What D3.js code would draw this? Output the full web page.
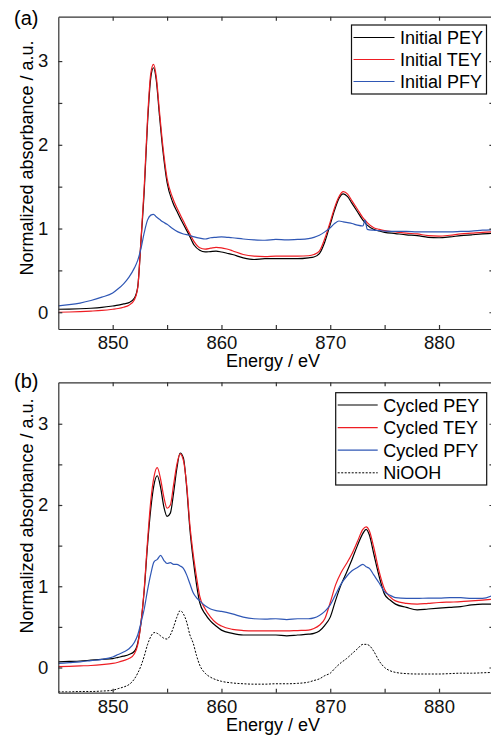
<!DOCTYPE html>
<html>
<head>
<meta charset="utf-8">
<script src="https://cdn.jsdelivr.net/npm/d3@7"></script>
<style>
  body { margin: 0; background: #fff; }
  svg { display: block; font-family: "Liberation Sans", Arial, sans-serif; }
  .axis text { font-size: 18.5px; fill: #111; }
  .axis path, .axis line { stroke: #333; stroke-width: 1.2; }
</style>
</head>
<body>
<div id="chart"></div>
<script>
// ---- data ----
var eTop = [845, 846, 847, 848, 849, 850, 850.5, 851, 851.5, 852, 852.3, 852.6, 852.9, 853.2, 853.5, 853.75,
  854, 854.3, 854.6, 855, 855.5, 856, 856.5, 857, 857.5, 858, 858.5, 859, 859.5, 860, 860.5, 861,
  862, 863, 864, 865, 866, 867, 868, 868.5, 869, 869.5, 870, 870.4, 870.8, 871.2, 871.6, 872,
  872.5, 873, 873.2, 873.4, 874, 874.5, 875, 876, 877, 878, 879, 880, 881, 882, 883, 884, 885];

var initialPEY = [0.036, 0.038, 0.042, 0.048, 0.058, 0.075, 0.085, 0.10, 0.115, 0.17, 0.30, 0.85, 1.45, 2.25, 2.80, 2.92,
  2.78, 2.35, 1.95, 1.55, 1.32, 1.18, 1.05, 0.93, 0.80, 0.74, 0.72, 0.725, 0.73, 0.72, 0.705, 0.69,
  0.65, 0.63, 0.64, 0.64, 0.64, 0.64, 0.65, 0.66, 0.70, 0.84, 1.05, 1.22, 1.36, 1.415, 1.38, 1.30,
  1.20, 1.10, 1.07, 1.04, 0.99, 0.97, 0.955, 0.94, 0.925, 0.915, 0.895, 0.89, 0.90, 0.915, 0.925, 0.935, 0.945];

var initialTEY = [0.0, 0.003, 0.008, 0.014, 0.022, 0.036, 0.045, 0.06, 0.085, 0.15, 0.29, 0.86, 1.50, 2.30, 2.85, 2.96,
  2.82, 2.40, 2.00, 1.60, 1.37, 1.22, 1.09, 0.96, 0.84, 0.77, 0.755, 0.765, 0.775, 0.77, 0.755, 0.735,
  0.69, 0.67, 0.665, 0.67, 0.67, 0.67, 0.675, 0.69, 0.73, 0.88, 1.08, 1.25, 1.38, 1.44, 1.41, 1.33,
  1.23, 1.13, 1.10, 1.07, 1.01, 0.99, 0.975, 0.96, 0.945, 0.935, 0.915, 0.91, 0.92, 0.935, 0.945, 0.955, 0.96];

var initialPFY = [0.075, 0.09, 0.11, 0.14, 0.18, 0.23, 0.28, 0.34, 0.42, 0.53, 0.62, 0.76, 0.95, 1.10, 1.16, 1.17,
  1.14, 1.11, 1.08, 1.05, 1.00, 0.96, 0.935, 0.92, 0.90, 0.885, 0.875, 0.89, 0.895, 0.90, 0.895, 0.89,
  0.875, 0.865, 0.86, 0.87, 0.865, 0.87, 0.88, 0.895, 0.92, 0.96, 1.01, 1.06, 1.09, 1.08, 1.07, 1.06,
  1.04, 1.03, 1.10, 0.99, 0.98, 0.975, 0.97, 0.965, 0.965, 0.96, 0.96, 0.96, 0.96, 0.965, 0.97, 0.98, 0.985];

var eBot = [845, 846, 847, 848, 849, 850, 850.5, 851, 851.5, 852, 852.3, 852.6, 852.9, 853.2, 853.5, 853.8,
  854.1, 854.4, 854.7, 855, 855.3, 855.6, 855.9, 856.2, 856.5, 856.8, 857.1, 857.4, 857.7, 858,
  858.5, 859, 859.5, 860, 861, 862, 863, 864, 865, 866, 867, 868, 868.5, 869, 869.5, 870,
  870.5, 871, 871.5, 872, 872.5, 873, 873.3, 873.6, 874, 874.5, 875, 875.5, 876,
  877, 878, 879, 880, 881, 882, 883, 884, 885];

var cycledPEY = [0.07, 0.075, 0.08, 0.09, 0.10, 0.11, 0.125, 0.14, 0.16, 0.20, 0.30, 0.55, 0.95, 1.50, 1.95, 2.25,
  2.36, 2.22, 1.98, 1.86, 1.90, 2.15, 2.45, 2.64, 2.58, 2.22, 1.70, 1.33, 1.03, 0.80,
  0.66, 0.57, 0.51, 0.46, 0.42, 0.40, 0.40, 0.40, 0.40, 0.39, 0.40, 0.41, 0.42, 0.45, 0.52, 0.62,
  0.83, 1.02, 1.17, 1.33, 1.50, 1.65, 1.70, 1.63, 1.40, 1.12, 0.90, 0.83, 0.78,
  0.74, 0.71, 0.72, 0.73, 0.74, 0.75, 0.77, 0.78, 0.78];

var cycledTEY = [0.01, 0.015, 0.02, 0.025, 0.035, 0.05, 0.065, 0.085, 0.11, 0.17, 0.28, 0.55, 0.97, 1.55, 2.05, 2.35,
  2.46, 2.32, 2.10, 1.96, 2.00, 2.25, 2.50, 2.63, 2.55, 2.25, 1.75, 1.40, 1.12, 0.88,
  0.72, 0.62, 0.55, 0.51, 0.47, 0.455, 0.45, 0.45, 0.45, 0.45, 0.455, 0.46, 0.48, 0.52, 0.60, 0.80,
  1.02, 1.17, 1.28, 1.40, 1.55, 1.70, 1.73, 1.68, 1.48, 1.18, 0.96, 0.87, 0.82,
  0.79, 0.78, 0.79, 0.80, 0.805, 0.81, 0.82, 0.83, 0.84];

var cycledPFY = [0.05, 0.06, 0.07, 0.085, 0.10, 0.13, 0.16, 0.19, 0.23, 0.31, 0.40, 0.55, 0.72, 0.95, 1.15, 1.30,
  1.33, 1.38, 1.32, 1.28, 1.29, 1.27, 1.27, 1.25, 1.22, 1.14, 1.03, 0.92, 0.86, 0.82,
  0.76, 0.72, 0.70, 0.69, 0.66, 0.62, 0.60, 0.595, 0.60, 0.59, 0.60, 0.60, 0.61, 0.64, 0.69, 0.77,
  0.90, 1.03, 1.12, 1.19, 1.23, 1.27, 1.24, 1.22, 1.14, 1.04, 0.93, 0.89, 0.86,
  0.85, 0.85, 0.855, 0.855, 0.86, 0.86, 0.85, 0.85, 0.89];

var niooh = [-0.30, -0.30, -0.295, -0.295, -0.29, -0.28, -0.26, -0.24, -0.21, -0.14, -0.07, 0.02, 0.14, 0.28, 0.38, 0.43,
  0.42, 0.39, 0.36, 0.35, 0.40, 0.50, 0.62, 0.70, 0.66, 0.56, 0.40, 0.30, 0.15, 0.03,
  -0.07, -0.12, -0.15, -0.17, -0.19, -0.20, -0.205, -0.205, -0.20, -0.20, -0.195, -0.18, -0.16, -0.14, -0.10, -0.07,
  0.00, 0.06, 0.11, 0.17, 0.23, 0.285, 0.285, 0.27, 0.20, 0.08, 0.00, -0.04, -0.06,
  -0.075, -0.08, -0.08, -0.08, -0.075, -0.07, -0.07, -0.065, -0.06];

var xTicks = [850, 855, 860, 865, 870, 875, 880];
var yTicks = [0, 0.5, 1, 1.5, 2, 2.5, 3];
var topLabels = ["Initial PEY", "Initial TEY", "Initial PFY"];
var botLabels = ["Cycled PEY", "Cycled TEY", "Cycled PFY", "NiOOH"];

// ---- layout ----
var svgWidth = 491, svgHeight = 737;
var red = "#ee1d23", blue = "#2f57b5", black = "#000";

var svg = d3.select("#chart").append("svg")
  .attr("width", svgWidth)
  .attr("height", svgHeight);

var x = d3.scaleLinear().domain([845, 885]).range([58.3, 493.4]);

function panel(opts) {
  var y = d3.scaleLinear().domain(opts.yDomain).range([opts.bottom, opts.top]);
  var g = svg.append("g");

  var clipId = "clip" + opts.name;
  svg.append("clipPath").attr("id", clipId)
    .append("rect")
    .attr("x", x.range()[0]).attr("y", opts.top)
    .attr("width", x.range()[1] - x.range()[0])
    .attr("height", opts.bottom - opts.top);

  var line = d3.line()
    .x(d => x(d[0]))
    .y(d => y(d[1]))
    .curve(d3.curveMonotoneX);

  var plot = g.append("g").attr("clip-path", `url(#${clipId})`);
  opts.series.forEach(function(s) {
    plot.append("path")
      .datum(opts.energy.map((e, i) => [e, s.values[i]]))
      .attr("fill", "none")
      .attr("stroke", s.color)
      .attr("stroke-width", s.width || 1.2)
      .attr("stroke-dasharray", s.dash || null)
      .attr("d", line);
  });

  // axes, ticks pointing inward
  g.append("g").attr("class", "axis")
    .attr("transform", `translate(0,${opts.bottom})`)
    .call(d3.axisBottom(x).tickValues(xTicks).tickSizeInner(-4).tickSizeOuter(0).tickPadding(7)
      .tickFormat(d => d % 10 === 0 ? d : ""));
  g.append("g").attr("class", "axis")
    .attr("transform", `translate(0,${opts.top})`)
    .call(d3.axisTop(x).tickValues(xTicks).tickSizeInner(-4).tickSizeOuter(0).tickFormat(""));
  g.append("g").attr("class", "axis")
    .attr("transform", `translate(${x.range()[0]},0)`)
    .call(d3.axisLeft(y).tickValues(yTicks).tickSizeInner(-4).tickSizeOuter(0).tickPadding(10)
      .tickFormat(d => d % 1 === 0 ? d : ""));
  g.append("g").attr("class", "axis")
    .attr("transform", `translate(${x.range()[1]},0)`)
    .call(d3.axisRight(y).tickValues(yTicks).tickSizeInner(-4).tickSizeOuter(0).tickFormat(""));

  // axis titles
  g.append("text")
    .attr("x", 273).attr("y", opts.bottom + 38)
    .attr("text-anchor", "middle")
    .style("font-size", "18px")
    .text("Energy / eV");
  g.append("text")
    .attr("transform", `translate(33,${opts.yLabelMid}) rotate(-90)`)
    .attr("text-anchor", "middle")
    .style("font-size", "18px")
    .text("Normalized absorbance / a.u.");
  g.append("text")
    .attr("x", 14).attr("y", opts.panelY)
    .style("font-size", "20px")
    .text(opts.panelLabel);

  // legend
  var lg = opts.legend;
  g.append("rect")
    .attr("x", lg.x).attr("y", lg.y)
    .attr("width", lg.w).attr("height", lg.h)
    .attr("fill", "#fff").attr("stroke", "#111").attr("stroke-width", 1.2);
  opts.series.forEach(function(s, i) {
    var ly = lg.firstRow + i * lg.step;
    g.append("line")
      .attr("x1", lg.lineX1).attr("x2", lg.lineX2)
      .attr("y1", ly).attr("y2", ly)
      .attr("stroke", s.color)
      .attr("stroke-width", s.width || 1.2)
      .attr("stroke-dasharray", s.dash || null);
    g.append("text")
      .attr("x", lg.textX).attr("y", ly + 6.5)
      .style("font-size", "18px")
      .text(s.label);
  });
}

panel({
  name: "a",
  top: 16.7, bottom: 329,
  yDomain: [-0.2, 3.53],
  energy: eTop,
  panelLabel: "(a)", panelY: 25,
  yLabelMid: 158,
  series: [
    {label: topLabels[0], values: initialPEY, color: black},
    {label: topLabels[1], values: initialTEY, color: red},
    {label: topLabels[2], values: initialPFY, color: blue}
  ],
  legend: {x: 351.5, y: 25, w: 135, h: 69, firstRow: 37.5, step: 22, lineX1: 353.5, lineX2: 394.5, textX: 400}
});

panel({
  name: "b",
  top: 382.3, bottom: 692.7,
  yDomain: [-0.31, 3.51],
  energy: eBot,
  panelLabel: "(b)", panelY: 388,
  yLabelMid: 516,
  series: [
    {label: botLabels[0], values: cycledPEY, color: black},
    {label: botLabels[1], values: cycledTEY, color: red},
    {label: botLabels[2], values: cycledPFY, color: blue},
    {label: botLabels[3], values: niooh, color: black, width: 1, dash: "2,1.5"}
  ],
  legend: {x: 335.7, y: 392.7, w: 151, h: 92.3, firstRow: 405, step: 22.6, lineX1: 337.7, lineX2: 377.7, textX: 383.3}
});
</script>
</body>
</html>
